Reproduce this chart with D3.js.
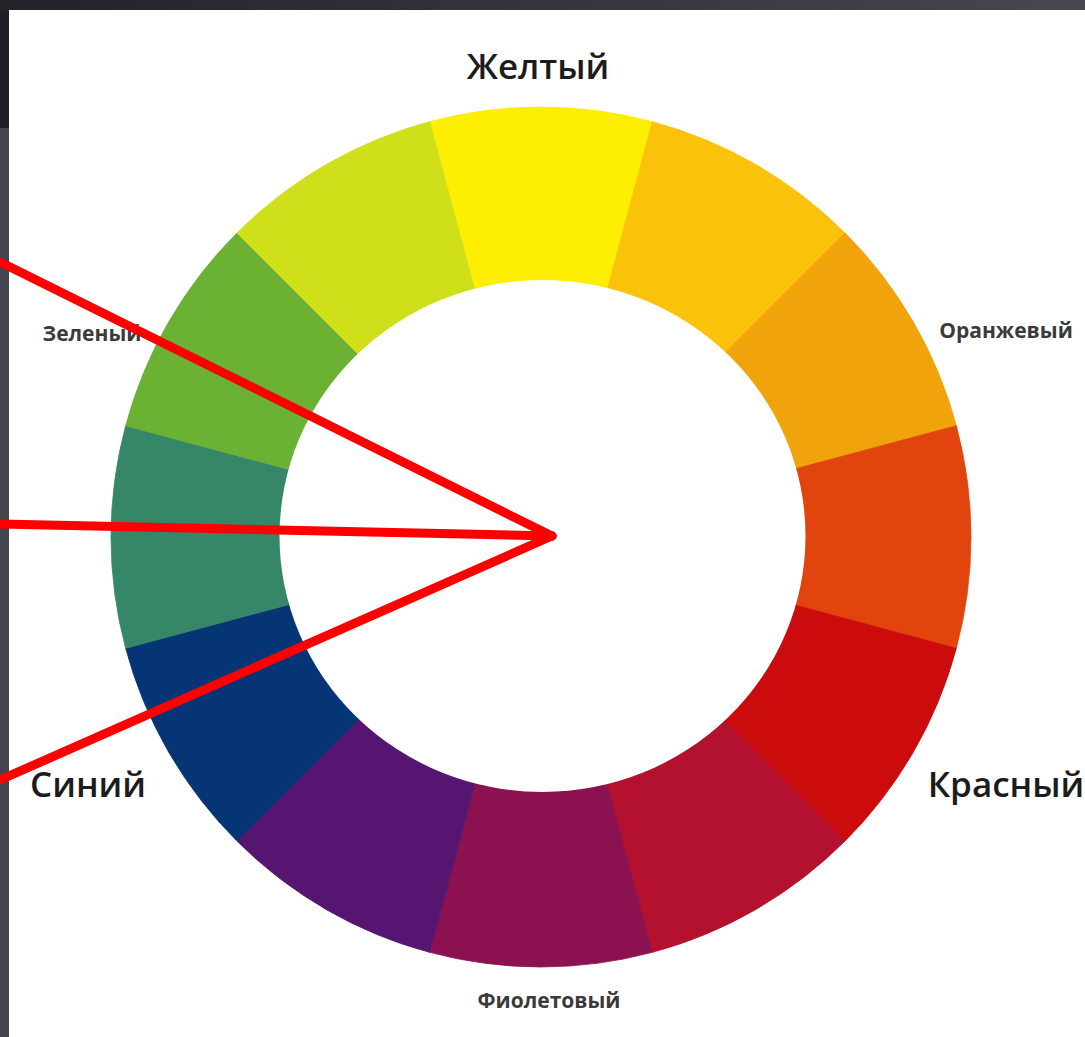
<!DOCTYPE html>
<html>
<head>
<meta charset="utf-8">
<script src="https://cdn.jsdelivr.net/npm/d3@7"></script>
<style>
  html, body { margin: 0; padding: 0; background: #44444e; }
  svg { display: block; }
</style>
</head>
<body>
<svg id="chart" width="1085" height="1037"></svg>
<script>
// ---- data ----
const segmentNames = ["Желтый", "Желто-оранжевый", "Оранжевый", "Красно-оранжевый", "Красный", "Красно-фиолетовый",
                      "Фиолетовый", "Сине-фиолетовый", "Синий", "Сине-зеленый", "Зеленый", "Желто-зеленый"];
const segmentColors = ["#fdee02", "#fbc20b", "#f1a30c", "#e2440e", "#cc0b0d", "#b3112e",
                       "#8c1150", "#561570", "#053575", "#358768", "#6bb134", "#cfe01a"];
const segmentValues = [1, 1, 1, 1, 1, 1, 1, 1, 1, 1, 1, 1];

const labels = [
  { text: "Желтый",     x: 538,  y: 79,   size: 35, weight: 600, color: "#1c1c1c" },
  { text: "Оранжевый",  x: 1006, y: 338,  size: 21, weight: 700, color: "#3a3a3a" },
  { text: "Красный",    x: 1006, y: 797,  size: 35, weight: 600, color: "#1c1c1c" },
  { text: "Фиолетовый", x: 549,  y: 1008, size: 21, weight: 700, color: "#3a3a3a" },
  { text: "Синий",      x: 88,   y: 797,  size: 35, weight: 600, color: "#1c1c1c" },
  { text: "Зеленый",    x: 92,   y: 341,  size: 21, weight: 700, color: "#3a3a3a" }
];

// red pointer lines: start points at the left, all meeting at one apex
const pointerStarts = [[0, 262], [0, 524], [0, 780]];
const pointerApex = [552, 536];

// ---- drawing ----
const svg = d3.select("#chart");
const W = 1085, H = 1037;

// dark frame
const defs = svg.append("defs");
const g1 = defs.append("linearGradient").attr("id", "topGrad").attr("x1", "0").attr("x2", "1");
g1.append("stop").attr("offset", "0").attr("stop-color", "#22232a");
g1.append("stop").attr("offset", "1").attr("stop-color", "#47474f");
svg.append("rect").attr("x", 0).attr("y", 0).attr("width", W).attr("height", H).attr("fill", "#44444e");
svg.append("rect").attr("x", 0).attr("y", 0).attr("width", W).attr("height", 128).attr("fill", "url(#topGrad)");
svg.append("rect").attr("x", 0).attr("y", 10).attr("width", 9).attr("height", 118).attr("fill", "#1f2027");

// white panel
svg.append("rect").attr("x", 9).attr("y", 10).attr("width", W - 9).attr("height", H - 10).attr("fill", "#ffffff");

// wheel
const cx = 541, cy = 537, R = 430;
const pie = d3.pie().sort(null).value(d => d)
  .startAngle(-Math.PI / 12).endAngle(2 * Math.PI - Math.PI / 12);
const arc = d3.arc().innerRadius(200).outerRadius(R);

const wheel = svg.append("g").attr("transform", `translate(${cx},${cy})`);
wheel.selectAll("path.seg")
  .data(pie(segmentValues))
  .join("path")
  .attr("class", "seg")
  .attr("d", arc)
  .attr("fill", (d, i) => segmentColors[i])
  .attr("stroke", (d, i) => segmentColors[i])
  .attr("stroke-width", 0.8);

// inner white hole (slightly elliptical as in the picture)
svg.append("ellipse")
  .attr("cx", 542.5).attr("cy", 536)
  .attr("rx", 263).attr("ry", 256)
  .attr("fill", "#ffffff");

// labels
svg.selectAll("text.lbl")
  .data(labels)
  .join("text")
  .attr("class", "lbl")
  .attr("x", d => d.x)
  .attr("y", d => d.y)
  .attr("text-anchor", "middle")
  .attr("font-family", "'Open Sans', 'Noto Sans', sans-serif")
  .attr("font-size", d => d.size)
  .attr("font-weight", d => d.weight)
  .attr("fill", d => d.color)
  .text(d => d.text);

// red pointer lines
const line = d3.line();
svg.selectAll("path.ptr")
  .data(pointerStarts)
  .join("path")
  .attr("class", "ptr")
  .attr("d", d => line([d, pointerApex]))
  .attr("fill", "none")
  .attr("stroke", "#fe0000")
  .attr("stroke-width", 9)
  .attr("stroke-linecap", "round");
</script>
</body>
</html>
